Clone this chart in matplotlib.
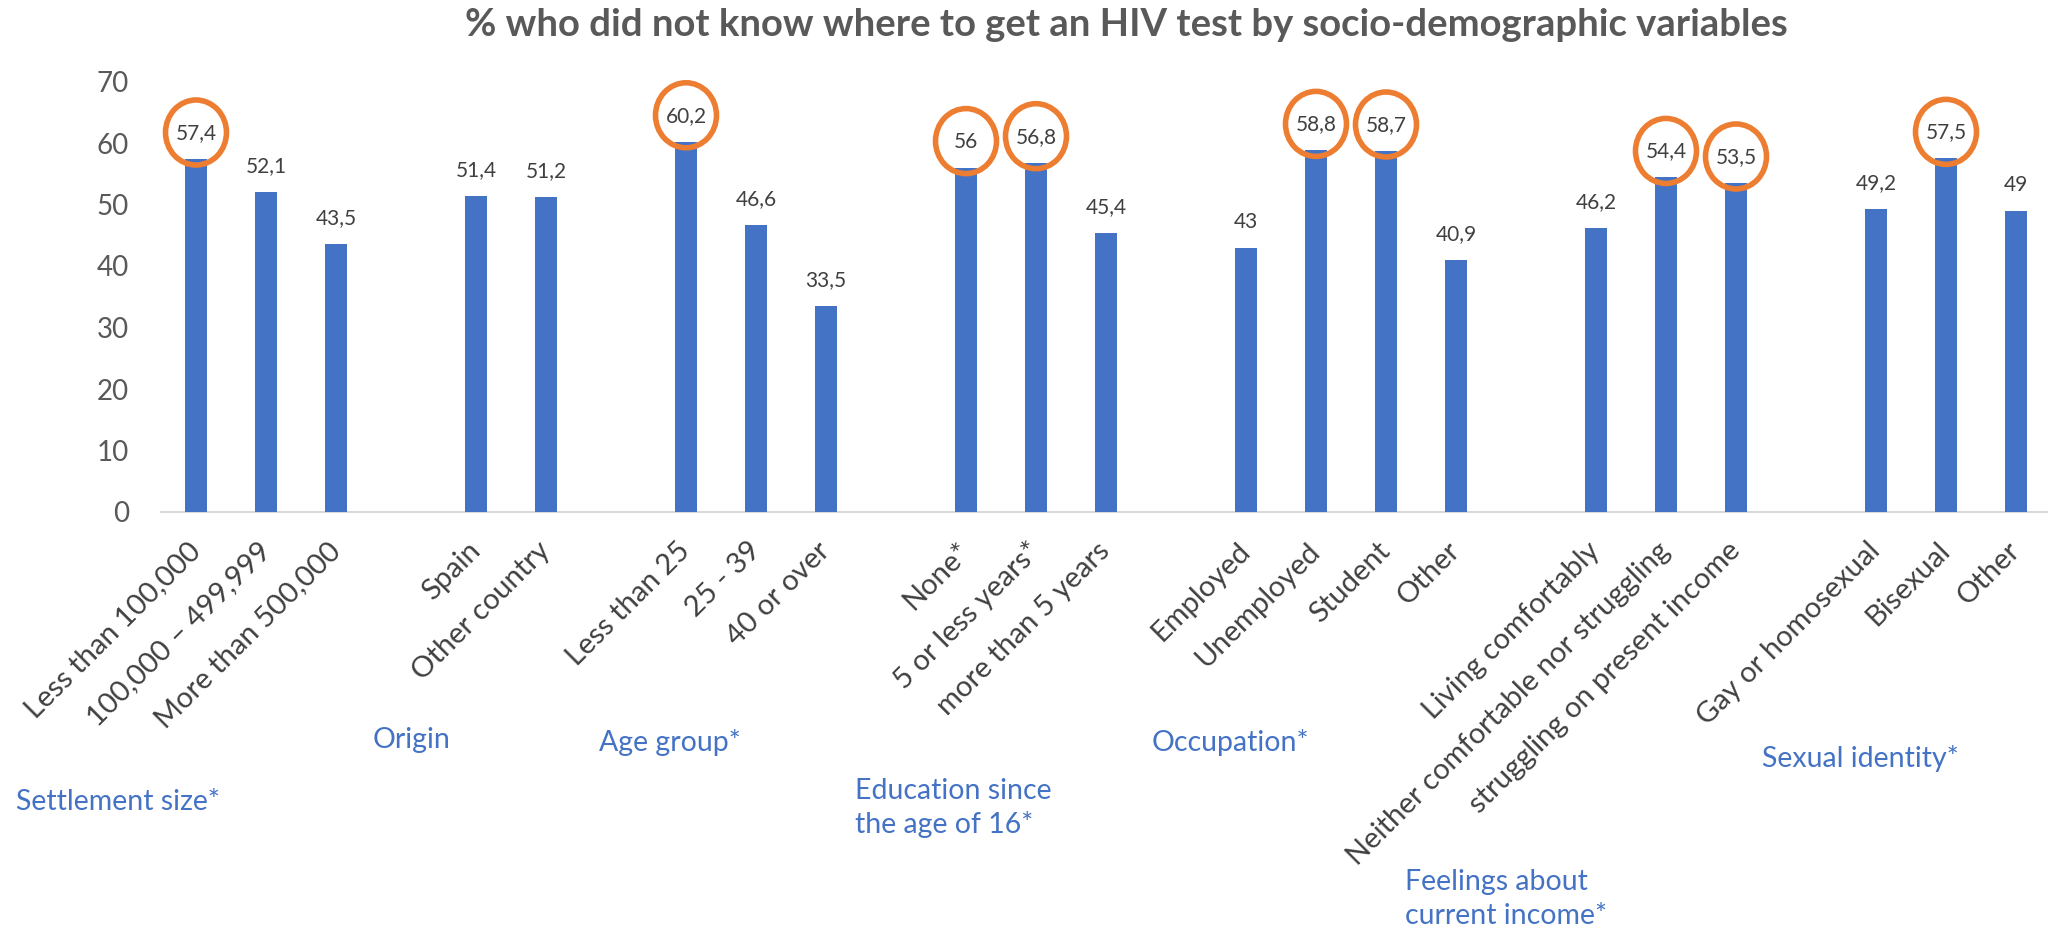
#
# HIV test knowledge : bar chart of % who did not know where to get
#         an HIV test, grouped by socio-demographic variables.
#
import numpy as np
import matplotlib
matplotlib.use('Agg')
import matplotlib.pyplot as plt
from matplotlib.patches import Ellipse
from matplotlib.transforms import ScaledTranslation

#####################################################################
TITLE = '% who did not know where to get an HIV test by socio-demographic variables'

GROUPS = [ 'Settlement size*', 'Origin', 'Age group*',
           'Education since\nthe age of 16*', 'Occupation*',
           'Feelings about\ncurrent income*', 'Sexual identity*' ]

settlement_cat = [ 'Less than 100,000', '100,000 \u2013 499,999', 'More than 500,000' ]
settlement_val = [ 57.4, 52.1, 43.5 ]
origin_cat = [ 'Spain', 'Other country' ]
origin_val = [ 51.4, 51.2 ]
age_cat = [ 'Less than 25', '25 - 39', '40 or over' ]
age_val = [ 60.2, 46.6, 33.5 ]
edu_cat = [ 'None*', '5 or less years*', 'more than 5 years' ]
edu_val = [ 56, 56.8, 45.4 ]
occ_cat = [ 'Employed', 'Unemployed', 'Student', 'Other' ]
occ_val = [ 43, 58.8, 58.7, 40.9 ]
income_cat = [ 'Living comfortably', 'Neither comfortable nor struggling',
               'struggling on present income' ]
income_val = [ 46.2, 54.4, 53.5 ]
sexual_cat = [ 'Gay or homosexual', 'Bisexual', 'Other' ]
sexual_val = [ 49.2, 57.5, 49 ]

# values circled in orange on the original
circled = [ 57.4, 60.2, 56, 56.8, 58.8, 58.7, 54.4, 53.5, 57.5 ]

Y_TICKS = [ 0, 10, 20, 30, 40, 50, 60, 70 ]

#####################################################################
BLUE   = '#4472C4'
ORANGE = '#ED7D31'
FONT   = 'Lato'
W, H, DPI = 2048, 931, 100

cats = [ settlement_cat, origin_cat, age_cat, edu_cat, occ_cat, income_cat, sexual_cat ]
vals = [ settlement_val, origin_val, age_val, edu_val, occ_val, income_val, sexual_val ]

# slot positions, one empty slot between groups
xs, labels, values, marks = [], [], [], []
pos = 0
for gcat, gval in zip( cats, vals ):
    for c, v in zip( gcat, gval ):
        xs.append( pos ); labels.append( c ); values.append( v )
        marks.append( v in circled )
        pos += 1
    pos += 1
n_slot = pos - 1

plt.rcParams['font.family'] = [ FONT, 'DejaVu Sans' ]
fig = plt.figure( figsize=(W/DPI, H/DPI), dpi=DPI )
ax = fig.add_axes( [ 161/W, 1-512/H, 1890/W, 430.5/H ] )

ax.bar( xs, values, width=0.31, color=BLUE, zorder=2 )
ax.set_xlim( -0.5, n_slot - 0.5 )
ax.set_ylim( 0, 70 )

for x, v, m in zip( xs, values, marks ):
    txt = '{:g}'.format( v ).replace( '.', ',' )
    ax.annotate( txt, (x, v), xytext=(0, 18.7), textcoords='offset points',
                 ha='center', va='center', fontsize=15, color='#404040' )
    if m:
        tr = fig.dpi_scale_trans + ScaledTranslation( x, v, ax.transData )
        ax.add_patch( Ellipse( (0, 0.265), 0.61, 0.65, transform=tr,
                      fill=False, ec=ORANGE, lw=4, clip_on=False, zorder=3 ) )

#####################################
for s in ( 'left', 'right', 'top' ):
    ax.spines[s].set_visible( False )
ax.spines['bottom'].set_color( '#D9D9D9' )
ax.spines['bottom'].set_linewidth( 1.5 )
ax.spines['bottom'].set_zorder( 1 )

ax.set_yticks( Y_TICKS )
ax.tick_params( axis='y', length=0, pad=23, labelsize=20, labelcolor='#595959' )
ax.set_xticks( xs )
ax.set_xticklabels( labels, rotation=45, ha='right', va='center',
                    rotation_mode='anchor', fontsize=21, color='#404040' )
ax.tick_params( axis='x', length=0, pad=25 )

# group names under the tick labels (pixel positions: left, centre y)
group_pos = [ (16, 802), (373, 740), (599, 743), (855, 808),
              (1152, 743), (1405, 899), (1762, 759) ]
for g, (gx, gy) in zip( GROUPS, group_pos ):
    fig.text( gx/W, 1-gy/H, g, ha='left', va='center', fontsize=20.5,
              color=BLUE, linespacing=1.35 )

fig.text( 1126/W, 1-25/H, TITLE, ha='center', va='center', fontsize=27.5,
          weight='bold', color='#595959' )

plt.savefig( 'out.png', dpi=DPI )
